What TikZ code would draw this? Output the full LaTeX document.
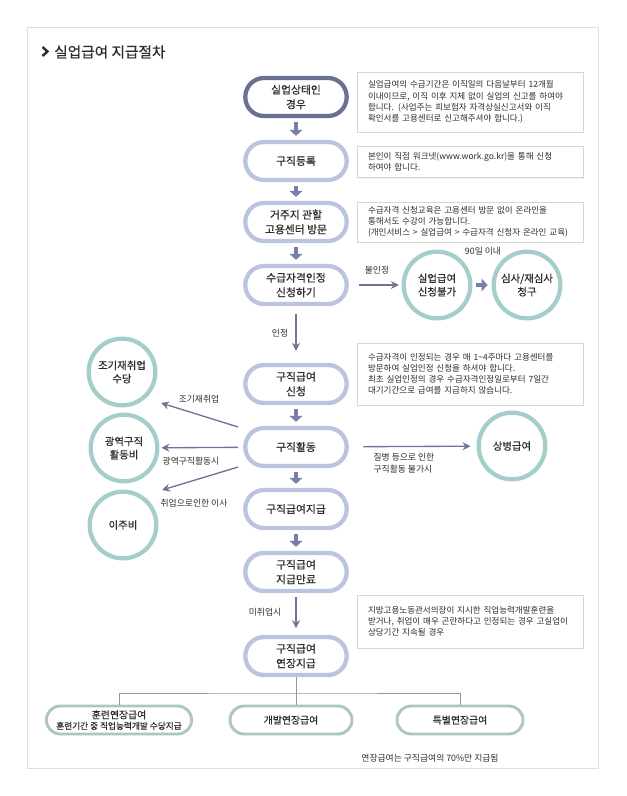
\documentclass[tikz,border=0pt]{standalone}
\usepackage{fontspec}
\setmainfont{Noto Sans CJK KR}
\newfontfamily\medfont{Noto Sans CJK KR}[FakeBold=0.6]
\usetikzlibrary{arrows.meta,shadows}
\definecolor{txt}{RGB}{45,45,45}
\definecolor{stadC}{RGB}{186,196,222}
\definecolor{darkC}{RGB}{108,111,150}
\definecolor{fatC}{RGB}{120,126,166}
\definecolor{arrC}{RGB}{112,114,152}
\definecolor{tealC}{RGB}{163,206,202}
\definecolor{boxC}{RGB}{172,198,198}
\definecolor{noteC}{RGB}{214,214,214}
\definecolor{frameC}{RGB}{222,222,222}
\definecolor{lineC}{RGB}{150,150,150}
\begin{document}
\begin{tikzpicture}[x=0.75pt,y=-0.75pt,
  stadium/.style={draw=stadC, line width=3.2pt, rounded corners=14pt, minimum width=76pt, minimum height=28.5pt, fill=white, align=center, text=txt, inner sep=1pt, font=\medfont\fontsize{8.1}{11}\selectfont},
  circ/.style={circle, draw=tealC, line width=3.2pt, minimum size=50pt, inner sep=0pt, fill=white, align=center, text=txt, font=\medfont\fontsize{7.8}{10}\selectfont},
  note/.style={draw=noteC, line width=0.6pt, fill=white, text width=153pt, inner xsep=8.25pt, inner ysep=2pt, align=left, text=txt, font=\fontsize{6.4}{8.4}\selectfont, drop shadow={shadow xshift=0.7pt, shadow yshift=-0.7pt, opacity=0.12}},
  fat/.style={draw=fatC, line width=3.6pt, -{Triangle[length=4.5pt,width=9.5pt]}, shorten <=3pt, shorten >=3pt},
  tarrow/.style={draw=arrC, line width=1pt, -{Stealth[length=6pt,width=6pt,inset=2pt]}},
  lbl/.style={text=txt, font=\fontsize{6.6}{9}\selectfont, inner sep=1pt, align=left},
  bbox/.style={draw=boxC, line width=2.2pt, rounded corners=10.5pt, minimum height=21pt, fill=white, align=center, text=txt, font=\medfont\fontsize{7.4}{8.5}\selectfont, inner sep=0pt, drop shadow={shadow xshift=0.6pt, shadow yshift=-0.8pt, opacity=0.15}},
  conn/.style={draw=lineC, line width=0.6pt}]
\useasboundingbox (0,0) rectangle (626,796);
\draw[frameC, line width=0.75pt] (27,27) rectangle (598,768);
% title
\draw[txt, line width=1.8pt] (42.5,47) -- (47.5,51.5) -- (42.5,56);
\node[anchor=west, font=\medfont\fontsize{11}{13}\selectfont, text=txt, inner sep=0pt] (title) at (54,52) {실업급여 지급절차};
% main column
\node[stadium, draw=darkC] (n1) at (296,97) {실업상태인\\경우};
\node[stadium] (n2) at (296,161) {구직등록};
\node[stadium] (n3) at (296,222) {거주지 관할\\고용센터 방문};
\node[stadium] (n4) at (296,285) {수급자격인정\\신청하기};
\node[stadium] (n5) at (296,384) {구직급여\\신청};
\node[stadium] (n6) at (296,447) {구직활동};
\node[stadium] (n7) at (296,509) {구직급여지급};
\node[stadium] (n8) at (296,572) {구직급여\\지급만료};
\node[stadium] (n9) at (296,656) {구직급여\\연장지급};
% circles
\node[circ] (c1) at (437,285) {실업급여\\신청불가};
\node[circ] (c2) at (527,285) {심사/재심사\\청구};
\node[circ] (c3) at (512,446) {상병급여};
\node[circ] (c4) at (122,372) {조기재취업\\수당};
\node[circ] (c5) at (124,448) {광역구직\\활동비};
\node[circ] (c6) at (123,525) {이주비};
% notes
\node[note, minimum height=45pt] (t1) at (470,102) {\mbox{실업급여의 수급기간은 이직일의 다음날부터 12개월}\\\mbox{이내이므로, 이직 이후 지체 없이 실업의 신고를 하여야}\\\mbox{합니다. (사업주는 피보험자 자격상실신고서와 이직}\\\mbox{확인서를 고용센터로 신고해주셔야 합니다.)}};
\node[note, minimum height=23.5pt] (t2) at (470,162) {\mbox{본인이 직접 워크넷(www.work.go.kr)을 통해 신청}\\\mbox{하여야 합니다.}};
\node[note, minimum height=30pt] (t3) at (470,222) {\mbox{수급자격 신청교육은 고용센터 방문 없이 온라인을}\\\mbox{통해서도 수강이 가능합니다.}\\\mbox{(개인서비스 > 실업급여 > 수급자격 신청자 온라인 교육)}};
\node[note, minimum height=46.5pt] (t4) at (470,374) {\mbox{수급자격이 인정되는 경우 매 1\textasciitilde4주마다 고용센터를}\\\mbox{방문하여 실업인정 신청을 하셔야 합니다.}\\\mbox{최초 실업인정의 경우 수급자격인정일로부터 7일간}\\\mbox{대기기간으로 급여를 지급하지 않습니다.}};
\node[note, minimum height=39.75pt] (t5) at (470,621.5) {\mbox{지방고용노동관서의장이 지시한 직업능력개발훈련을}\\\mbox{받거나, 취업이 매우 곤란하다고 인정되는 경우 고실업이}\\\mbox{상당기간 지속될 경우}};
% fat arrows
\draw[fat] (n1) -- (n2);
\draw[fat] (n2) -- (n3);
\draw[fat] (n3) -- (n4);
\draw[fat] (n5) -- (n6);
\draw[fat] (n6) -- (n7);
\draw[fat] (n7) -- (n8);
\draw[fat] (c1) -- (c2);
% thin arrows
\draw[tarrow, shorten <=6pt, shorten >=9pt] (n4) -- (n5);
\node[lbl] (l1) at (280,333) {인정};
\draw[tarrow, shorten <=3pt, shorten >=5pt] (n8) -- (n9);
\node[lbl] (l2) at (265,612) {미취업시};
\draw[tarrow, shorten <=7.5pt, shorten >=2pt] (n4) -- (c1);
\node[lbl] (l3) at (377,270) {불인정};
\node[lbl] (l4) at (483,251) {90일 이내};
\draw[tarrow, shorten <=11pt, shorten >=4.5pt] (n6) -- (c3);
\node[lbl, anchor=north west] (l5) at (372,452) {질병 등으로 인한\\구직활동 불가시};
\draw[tarrow] ([shift={(-5,-20)}]n6.west) -- ([shift={(39,31)}]c4.center);
\node[lbl] (l6) at (199,399) {조기재취업};
\draw[tarrow, shorten <=4pt, shorten >=1.5pt] (n6) -- (c5);
\node[lbl] (l7) at (191,461) {광역구직활동시};
\draw[tarrow] ([shift={(-5,20)}]n6.west) -- ([shift={(39,-35)}]c6.center);
\node[lbl] (l8) at (194,503) {취업으로인한 이사};
% bottom
\node[bbox, minimum width=109pt] (b1) at (119,720) {훈련연장급여\\[-0.5pt]{\fontsize{6.5}{8}\selectfont 훈련기간 중 직업능력개발 수당지급}};
\node[bbox, minimum width=91.5pt] (b2) at (291,720) {개발연장급여};
\node[bbox, minimum width=94.5pt] (b3) at (460,720) {특별연장급여};
\coordinate (jn) at (296,693);
\draw[conn] (n9) -- (n9 |- b2.north);
\draw[conn] (b1.north) |- (jn) -| (b3.north);
\node[lbl] (fn) at (430,758) {연장급여는 구직급여의 70\%만 지급됨};
\end{tikzpicture}
\end{document}
